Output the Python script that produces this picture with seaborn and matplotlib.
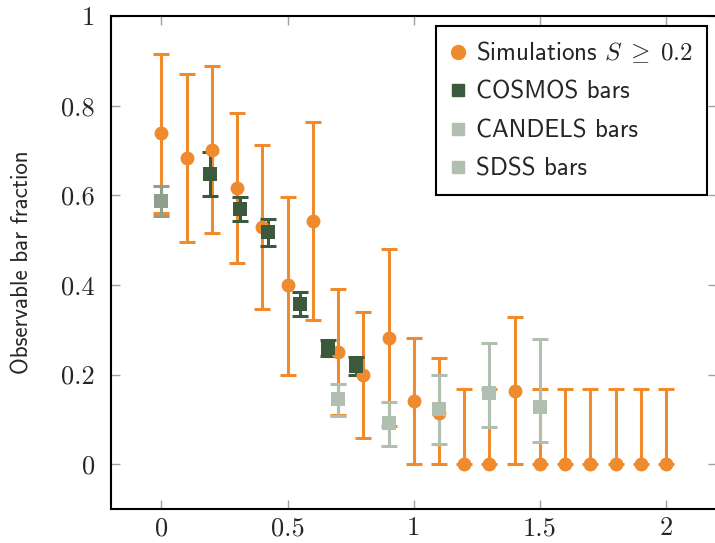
import matplotlib
matplotlib.use("Agg")
import matplotlib.pyplot as plt
from matplotlib.lines import Line2D
import seaborn as sns
import numpy as np
import pandas as pd

# ---- data ----
sim_x = [0.0, 0.1, 0.2, 0.3, 0.4, 0.5, 0.6, 0.7, 0.8, 0.9, 1.0,
         1.1, 1.2, 1.3, 1.4, 1.5, 1.6, 1.7, 1.8, 1.9, 2.0]
sim_y = [0.739, 0.683, 0.701, 0.616, 0.529, 0.400, 0.542, 0.250, 0.199, 0.282, 0.140,
         0.115, 0.0, 0.0, 0.164, 0.0, 0.0, 0.0, 0.0, 0.0, 0.0]
sim_hi = [0.915, 0.870, 0.888, 0.784, 0.713, 0.596, 0.763, 0.390, 0.339, 0.480, 0.281,
          0.238, 0.167, 0.167, 0.329, 0.167, 0.167, 0.167, 0.167, 0.167, 0.167]
sim_lo = [0.560, 0.495, 0.515, 0.450, 0.346, 0.200, 0.321, 0.110, 0.058, 0.085, 0.0,
          0.0, 0.0, 0.0, 0.0, 0.0, 0.0, 0.0, 0.0, 0.0, 0.0]

cosmos_x = [0.193, 0.313, 0.424, 0.551, 0.660, 0.772]
cosmos_y = [0.647, 0.569, 0.518, 0.357, 0.259, 0.219]
cosmos_hi = [0.696, 0.596, 0.547, 0.384, 0.277, 0.239]
cosmos_lo = [0.598, 0.542, 0.487, 0.330, 0.241, 0.199]

candels_x = [0.7, 0.9, 1.1, 1.3, 1.5]
candels_y = [0.145, 0.092, 0.123, 0.158, 0.127]
candels_hi = [0.180, 0.138, 0.200, 0.270, 0.279]
candels_lo = [0.107, 0.040, 0.045, 0.083, 0.050]

sdss_x = [0.0]
sdss_y = [0.587]
sdss_hi = [0.620]
sdss_lo = [0.553]

x_ticks = [0, 0.5, 1, 1.5, 2]
x_tick_labels = ["0", "0.5", "1", "1.5", "2"]
y_ticks = [0, 0.2, 0.4, 0.6, 0.8, 1]
y_tick_labels = ["0", "0.2", "0.4", "0.6", "0.8", "1"]

ORANGE = "#ef8a2d"
COSMOS_C = "#3c5a3b"
CANDELS_C = "#b1bfb1"
SDSS_C = "#8e9f8c"

sns.set_theme(style="ticks")
plt.rcParams["mathtext.fontset"] = "cm"
plt.rcParams["font.family"] = ["cmss10", "DejaVu Sans"]
plt.rcParams["axes.unicode_minus"] = False

fig = plt.figure(figsize=(7.15, 5.43), dpi=100)
W, H = 715, 543
ax = fig.add_axes([111 / W, (H - 509) / H, (716.5 - 111) / W, (509 - 16) / H])

def draw(x, y, hi, lo, color, marker, z_err, z_mark, ms):
    y = np.array(y); hi = np.array(hi); lo = np.array(lo)
    ax.errorbar(x, y, yerr=[y - lo, hi - y], fmt="none", ecolor=color,
                elinewidth=2.2, capsize=5.8, capthick=2.2, zorder=z_err)
    df = pd.DataFrame({"x": x, "y": y})
    sns.scatterplot(data=df, x="x", y="y", ax=ax, color=color, marker=marker,
                    s=ms ** 2, linewidth=0, zorder=z_mark, legend=False)

draw(sim_x, sim_y, sim_hi, sim_lo, ORANGE, "o", 2, 3, 10)
draw(cosmos_x, cosmos_y, cosmos_hi, cosmos_lo, COSMOS_C, "s", 2.5, 4, 9.5)
draw(candels_x, candels_y, candels_hi, candels_lo, CANDELS_C, "s", 2.6, 4, 9.5)
draw(sdss_x, sdss_y, sdss_hi, sdss_lo, SDSS_C, "s", 2.7, 4, 9.5)

ax.set_xlim(-0.2, 2.2)
ax.set_ylim(-0.1, 1.0)
ax.set_xticks(x_ticks)
ax.set_xticklabels(x_tick_labels, fontfamily="cmr10", fontsize=19)
ax.set_yticks(y_ticks)
ax.set_yticklabels(y_tick_labels, fontfamily="cmr10", fontsize=19)
ax.tick_params(direction="in", length=6.5, width=1.0, color="#a0a0a0",
               top=True, right=True)
ax.tick_params(axis="y", pad=11.5)
ax.tick_params(axis="x", pad=5.5)
ax.set_xlabel("")
ax.set_ylabel("Observable bar fraction", fontsize=16.5)
ax.yaxis.set_label_coords(-(111 - 33) / 605.5, 0.5)
for s in ax.spines.values():
    s.set_color("black")
    s.set_linewidth(1.5)

handles = [
    Line2D([], [], ls="none", marker="o", color=ORANGE, markersize=10),
    Line2D([], [], ls="none", marker="s", color=COSMOS_C, markersize=9),
    Line2D([], [], ls="none", marker="s", color=CANDELS_C, markersize=9),
    Line2D([], [], ls="none", marker="s", color=CANDELS_C, markersize=9),
]
labels = [r"Simulations $S\;\geq\;0.2$", "COSMOS bars", "CANDELS bars", "SDSS bars"]
leg = ax.legend(handles, labels, loc="upper right", bbox_to_anchor=(0.985, 0.98),
                fontsize=18, frameon=True, fancybox=False, framealpha=1,
                edgecolor="black", handlelength=0.6, handletextpad=0.45,
                labelspacing=0.62, borderpad=0.55, borderaxespad=0)
leg.get_frame().set_linewidth(1.5)

fig.savefig("out.png", dpi=100)
